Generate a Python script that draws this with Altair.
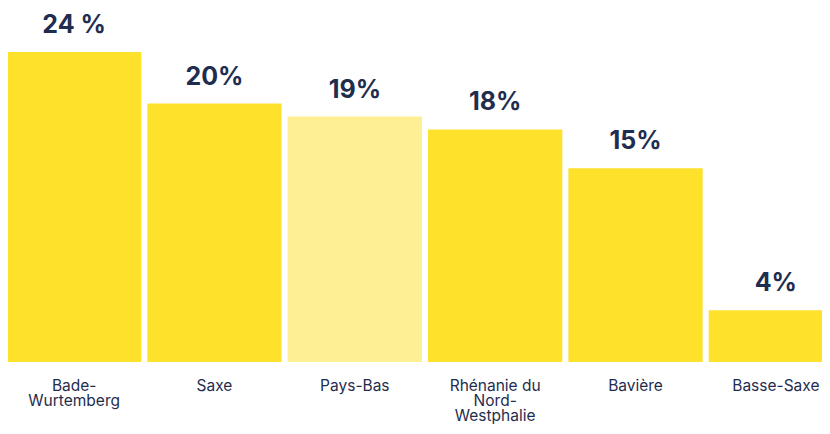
import altair as alt
import pandas as pd

categories = ["Bade-Wurtemberg", "Saxe", "Pays-Bas", "Rhénanie du Nord-Westphalie", "Bavière", "Basse-Saxe"]
values = [24, 20, 19, 18, 15, 4]
value_labels = ["24 %", "20%", "19%", "18%", "15%", "4%"]
highlight = [False, False, True, False, False, False]
wrapped = {
    "Bade-Wurtemberg": ["Bade-", "Wurtemberg"],
    "Rhénanie du Nord-Westphalie": ["Rhénanie du", "Nord-", "Westphalie"],
}

df = pd.DataFrame({
    "cat": categories,
    "val": values,
    "lab": value_labels,
    "hl": ["light" if h else "normal" for h in highlight],
})

def js_arr(lst):
    return "[" + ",".join("'" + s + "'" for s in lst) + "]"

label_expr = "{" + ",".join("'" + k + "':" + js_arr(v) for k, v in wrapped.items()) + "}[datum.value] || datum.label"

navy = "#1F2D4F"
xscale = alt.Scale(paddingInner=0.043, paddingOuter=0)
x = alt.X("cat:N", sort=categories, title=None, scale=xscale,
          axis=alt.Axis(labelAngle=0, ticks=False, domain=False, labelPadding=16,
                        labelFont="Inter", labelFontSize=15.5, labelColor=navy,
                        labelLineHeight=15, labelExpr=label_expr, labelLimit=200))
y = alt.Y("val:Q", title=None, scale=alt.Scale(domain=[0, 27.4], nice=False), axis=None)

bars = alt.Chart(df).mark_bar().encode(
    x=x, y=y,
    color=alt.Color("hl:N", scale=alt.Scale(domain=["normal", "light"], range=["#FEE12B", "#FEEF94"]), legend=None),
)
text = alt.Chart(df).mark_text(baseline="bottom", dy=-14, font="Inter", fontSize=25, fontWeight="bold", color=navy).encode(
    x=alt.X("cat:N", sort=categories), y=y, text="lab:N")

chart = (bars + text).properties(
    width=836, height=354,
    autosize=alt.AutoSizeParams(type="none"),
    padding={"left": -1, "top": 0, "right": -21, "bottom": 62},
).configure_view(stroke=None).configure_axis(grid=False)

chart.save("out.html", embed_options={"renderer": "svg", "actions": False})
